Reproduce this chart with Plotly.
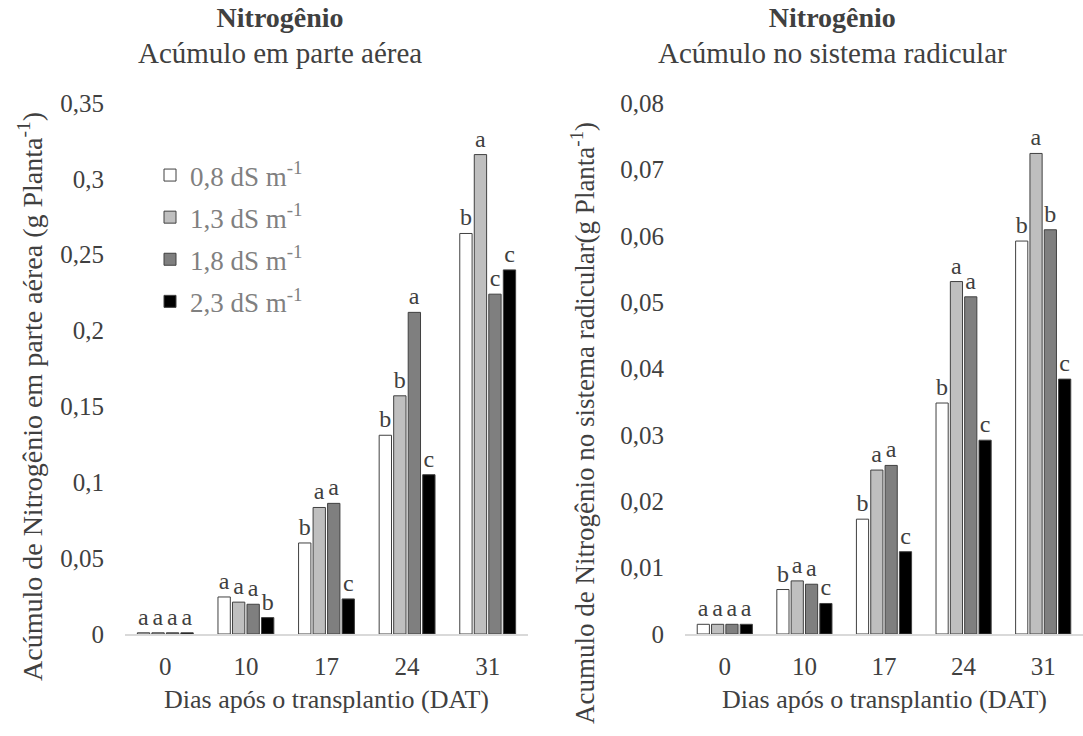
import plotly.graph_objects as go

W, H = 1083, 736

categories = ["0", "10", "17", "24", "31"]
series_names = ["0,8 dS m<sup>-1</sup>", "1,3 dS m<sup>-1</sup>", "1,8 dS m<sup>-1</sup>", "2,3 dS m<sup>-1</sup>"]

# Acúmulo em parte aérea (g planta-1)
aerea_08 = [0.0008, 0.0244, 0.060, 0.131, 0.264]
aerea_13 = [0.0008, 0.0210, 0.0834, 0.157, 0.316]
aerea_18 = [0.0008, 0.0196, 0.0861, 0.212, 0.224]
aerea_23 = [0.0008, 0.0108, 0.0231, 0.105, 0.240]
aerea_letters_08 = ["a", "a", "b", "b", "b"]
aerea_letters_13 = ["a", "a", "a", "b", "a"]
aerea_letters_18 = ["a", "a", "a", "a", "c"]
aerea_letters_23 = ["a", "b", "c", "c", "c"]

# Acúmulo no sistema radicular (g planta-1)
raiz_08 = [0.00146, 0.0067, 0.0173, 0.0348, 0.0592]
raiz_13 = [0.00146, 0.0080, 0.0247, 0.0531, 0.0724]
raiz_18 = [0.00146, 0.0075, 0.0254, 0.0508, 0.0609]
raiz_23 = [0.00146, 0.0046, 0.0124, 0.0292, 0.0384]
raiz_letters_08 = ["a", "b", "b", "b", "b"]
raiz_letters_13 = ["a", "a", "a", "a", "a"]
raiz_letters_18 = ["a", "a", "a", "a", "b"]
raiz_letters_23 = ["a", "c", "c", "c", "c"]

y1_ticks = [0, 0.05, 0.1, 0.15, 0.2, 0.25, 0.3, 0.35]
y1_ticktext = ["0", "0,05", "0,1", "0,15", "0,2", "0,25", "0,3", "0,35"]
y2_ticks = [0, 0.01, 0.02, 0.03, 0.04, 0.05, 0.06, 0.07, 0.08]
y2_ticktext = ["0", "0,01", "0,02", "0,03", "0,04", "0,05", "0,06", "0,07", "0,08"]

fills = ["#ffffff", "#bfbfbf", "#7f7f7f", "#000000"]
FONT = "Liberation Serif"
TXT = "#404040"

def px(x):
    return x / W

def py(y):
    return 1 - y / H

fig = go.Figure()

aerea = [aerea_08, aerea_13, aerea_18, aerea_23]
aerea_l = [aerea_letters_08, aerea_letters_13, aerea_letters_18, aerea_letters_23]
raiz = [raiz_08, raiz_13, raiz_18, raiz_23]
raiz_l = [raiz_letters_08, raiz_letters_13, raiz_letters_18, raiz_letters_23]

for i in range(4):
    fig.add_trace(go.Bar(
        x=categories, y=aerea[i], name=series_names[i], text=aerea_l[i],
        textposition="outside", cliponaxis=False, constraintext="none",
        textfont=dict(family=FONT, size=24, color=TXT),
        marker=dict(color=fills[i], line=dict(color="#404040", width=1)),
        xaxis="x", yaxis="y", legendgroup=str(i), showlegend=True,
    ))
for i in range(4):
    fig.add_trace(go.Bar(
        x=categories, y=raiz[i], name=series_names[i], text=raiz_l[i],
        textposition="outside", cliponaxis=False, constraintext="none",
        textfont=dict(family=FONT, size=24, color=TXT),
        marker=dict(color=fills[i], line=dict(color="#404040", width=1)),
        xaxis="x2", yaxis="y2", legendgroup=str(i), showlegend=False,
    ))

ydom = [py(634), py(103)]
axis_common = dict(showgrid=False, zeroline=False, ticks="", automargin=False,
                   tickfont=dict(family=FONT, size=25, color=TXT))

fig.update_layout(
    width=W, height=H, autosize=False,
    margin=dict(l=0, r=0, t=0, b=0, pad=0, autoexpand=False),
    paper_bgcolor="white", plot_bgcolor="white",
    barmode="group", bargap=0.28, bargroupgap=0.15,
    font=dict(family=FONT, color=TXT),
    xaxis=dict(domain=[px(125), px(528)], anchor="y", type="category",
               showline=True, linecolor="#d9d9d9", linewidth=1.5,
               ticklabelstandoff=9, **axis_common),
    yaxis=dict(domain=ydom, anchor="x", range=[0, 0.35],
               tickvals=y1_ticks, ticktext=y1_ticktext, showline=False,
               ticklabelstandoff=20, **axis_common),
    xaxis2=dict(domain=[px(685), px(1083)], anchor="y2", type="category",
                showline=True, linecolor="#d9d9d9", linewidth=1.5,
                ticklabelstandoff=9, **axis_common),
    yaxis2=dict(domain=ydom, anchor="x2", range=[0, 0.08],
                tickvals=y2_ticks, ticktext=y2_ticktext, showline=False,
                ticklabelstandoff=20, **axis_common),
    legend=dict(x=px(150), y=py(151), xanchor="left", yanchor="top",
                font=dict(family=FONT, size=27, color="#808080"),
                bgcolor="rgba(0,0,0,0)", tracegroupgap=4,
                traceorder="grouped"),
    annotations=[
        dict(x=px(280), y=py(0), xref="paper", yref="paper", xanchor="center", yanchor="top",
             text="<b>Nitrogênio</b><br><span style='font-size:29px'>Acúmulo em parte aérea</span>",
             showarrow=False, font=dict(family=FONT, size=28, color=TXT)),
        dict(x=px(832), y=py(0), xref="paper", yref="paper", xanchor="center", yanchor="top",
             text="<b>Nitrogênio</b><br><span style='font-size:29px'>Acúmulo no sistema radicular</span>",
             showarrow=False, font=dict(family=FONT, size=28, color=TXT)),
        dict(x=px(326), y=py(699), xref="paper", yref="paper", xanchor="center", yanchor="middle",
             text="Dias após o transplantio (DAT)", showarrow=False,
             font=dict(family=FONT, size=26, color=TXT)),
        dict(x=px(884), y=py(699), xref="paper", yref="paper", xanchor="center", yanchor="middle",
             text="Dias após o transplantio (DAT)", showarrow=False,
             font=dict(family=FONT, size=26, color=TXT)),
        dict(x=px(30), y=py(397), xref="paper", yref="paper", xanchor="center", yanchor="middle",
             text="Acúmulo de Nitrogênio em parte aérea (g Planta<sup>-1</sup>)", textangle=-90,
             showarrow=False, font=dict(family=FONT, size=28, color=TXT)),
        dict(x=px(583), y=py(423), xref="paper", yref="paper", xanchor="center", yanchor="middle",
             text="Acumulo de Nitrogênio no sistema radicular(g Planta<sup>-1</sup>)", textangle=-90,
             showarrow=False, font=dict(family=FONT, size=27, color=TXT)),
    ],
)

fig.write_html("out.html")
